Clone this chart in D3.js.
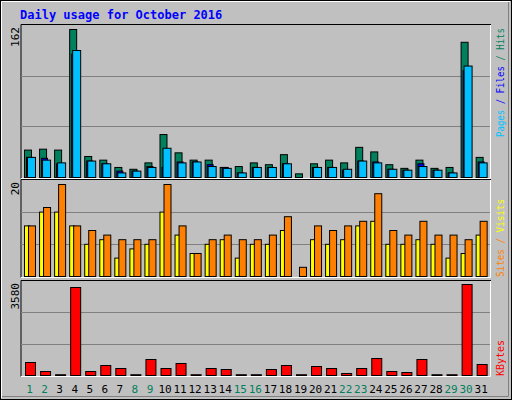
<!DOCTYPE html>
<html><head><meta charset="utf-8">
<script src="https://cdn.jsdelivr.net/npm/d3@7"></script>
<style>body{margin:0;background:#fff}</style>
</head><body><div id="canvas"></div>
<script>
const days = d3.range(1, 32);
const weekend = [1, 2, 8, 9, 15, 16, 22, 23, 29, 30];
const hits = [30,31,30,162,23,19,11,9,16,47,27,19,19,11,12,16,14,25,4,15,19,16,33,28,14,10,19,10,11,148,22];
const files = [22,21,15,135,18,15,7,7,12,11,17,17,14,11,5,11,11,15,0,11,11,8,18,17,9,8,15,8,5,117,17];
const pages = [22,19,16,139,18,15,5,7,11,32,16,17,12,10,5,11,11,15,0,11,11,9,18,16,9,8,12,8,5,122,16];
const visits = [11,15,20,11,10,9,8,8,8,20,11,5,8,9,8,8,9,13,2,11,10,11,12,18,10,9,12,9,9,8,12];
const sites = [11,14,14,11,7,8,4,6,7,14,9,5,7,8,4,7,7,10,0,8,7,8,11,12,7,7,8,7,4,5,9];
const kbytes = [511,157,30,3462,157,393,275,30,629,275,472,30,275,236,30,30,236,393,30,354,275,79,275,669,157,118,629,30,30,3580,433];

const W = 512, H = 400;
const svg = d3.select("#canvas").append("svg").attr("width", W).attr("height", H)
  .style("font-family", "DejaVu Sans Mono, monospace");

svg.append("rect").attr("x", 0.5).attr("y", 0.5).attr("width", W - 1).attr("height", H - 1)
  .attr("fill", "#c0c0c0").attr("stroke", "#000");
svg.append("path").attr("d", `M1.5,${H - 2}V1.5H${W - 2}`).attr("stroke", "#fff").attr("fill", "none");
svg.append("path").attr("d", `M2,${H - 3.5}H${W - 3.5}V2`).attr("stroke", "#808080").attr("fill", "none");

svg.append("text").attr("x", 20).attr("y", 19).text("Daily usage for October 2016")
  .attr("fill", "#0000ff").attr("font-weight", "bold").attr("font-size", 12);

const x = d3.scaleBand().domain(days).range([21, 487.7]);

const panels = [
  { top: 25, base: 177, maxY: 29, max: 162, lblY: 137, lblLen: 109, series: [
      { data: hits, color: "#00805c", off: 3, w: 7 },
      { data: files, color: "#0000ff", off: 5, w: 6 },
      { data: pages, color: "#00c0ff", off: 6, w: 8 }],
    labels: [["Pages", "#00c0ff"], [" / ", "#0000ff"], ["Files", "#0000ff"], [" / ", "#00805c"], ["Hits", "#00805c"]] },
  { top: 180, base: 276, maxY: 184, max: 20, lblY: 277, lblLen: 78, series: [
      { data: sites, color: "#ffff00", off: 3, w: 5 },
      { data: visits, color: "#ff8000", off: 7, w: 7 }],
    labels: [["Sites", "#ff8000"], [" / ", "#ff8000"], ["Visits", "#ffff00"]] },
  { top: 281, base: 375, maxY: 284, max: 3580, lblY: 376, lblLen: 36, series: [
      { data: kbytes, color: "#ff0000", off: 4, w: 10 }],
    labels: [["KBytes", "#ff0000"]] }
];

panels.forEach(p => {
  const g = svg.append("g");
  g.append("rect").attr("x", 21).attr("y", p.top).attr("width", 470).attr("height", p.base - p.top + 1)
    .attr("fill", "#c0c0c0");
  g.append("path").attr("d", `M21,${p.base + 1.5}V${p.top - 0.5}H491`).attr("stroke", "#000").attr("fill", "none");
  g.append("path").attr("d", `M21,${p.base + 1.5}H490.5V${p.top}`).attr("stroke", "#fff").attr("fill", "none");
  const h = p.base - p.top;
  [1, 2].forEach(k => {
    const yy = Math.round(p.base - h * k / 3) + 0.5;
    g.append("line").attr("x1", 21).attr("x2", 490).attr("y1", yy).attr("y2", yy).attr("stroke", "#808080");
  });
  const y = d3.scaleLinear().domain([0, p.max]).range([p.base, p.maxY]);
  p.series.forEach(s => {
    g.selectAll(null).data(days).enter().append("rect")
      .attr("x", d => x(d) + s.off + 0.5)
      .attr("y", d => y(s.data[d - 1]) + 0.5)
      .attr("width", s.w)
      .attr("height", d => Math.max(0, p.base - y(s.data[d - 1])))
      .attr("fill", s.color).attr("stroke", "#000")
      .style("display", d => s.data[d - 1] > 0 ? null : "none");
  });
  g.append("text").attr("transform", `translate(19,${p.top + 2}) rotate(-90)`)
    .attr("text-anchor", "end").attr("font-size", 11).text(p.max);
  const t = g.append("text").attr("transform", `translate(504,${p.lblY}) rotate(-90)`)
    .attr("font-size", 11).attr("textLength", p.lblLen).attr("lengthAdjust", "spacingAndGlyphs");
  p.labels.forEach(([s, c]) => t.append("tspan").text(s).attr("fill", c));
});

svg.selectAll(".day").data(days).enter().append("text")
  .attr("x", d => x(d) + x.bandwidth() / 2 + 1).attr("y", 393)
  .attr("text-anchor", "middle").attr("font-size", 11)
  .attr("fill", d => weekend.includes(d) ? "#00805c" : "#000")
  .text(d => d);
</script>
</body></html>
